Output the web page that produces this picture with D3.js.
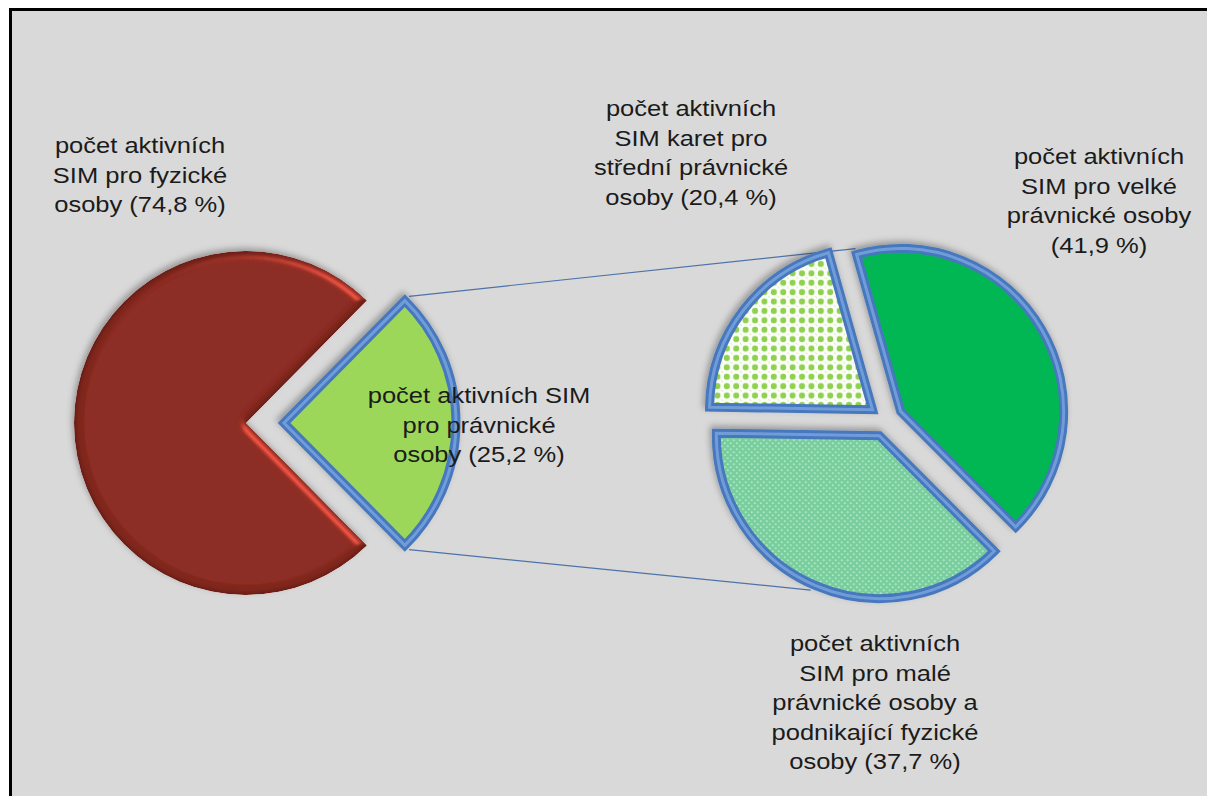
<!DOCTYPE html>
<meta charset="utf-8">
<style>
body { margin: 0; background: #fff; }
svg { display: block; }
.label {
  font-family: Arial, "Liberation Sans", sans-serif;
  font-size: 22px;
  fill: #1b1b1b;
}
.connector {
  fill: none;
  stroke: #4d73a8;
  stroke-width: 1.2px;
}
</style>
<svg width="1207" height="796"></svg>
<script src="https://cdnjs.cloudflare.com/ajax/libs/d3/7.8.5/d3.min.js"></script>
<script>
// data
var mainNames = ["počet aktivních SIM pro fyzické osoby", "počet aktivních SIM pro právnické osoby"];
var mainValues = [74.8, 25.2];
var subNames = ["počet aktivních SIM pro velké právnické osoby",
                "počet aktivních SIM pro malé právnické osoby a podnikající fyzické osoby",
                "počet aktivních SIM karet pro střední právnické osoby"];
var subValues = [41.9, 37.7, 20.4];

// label text, wrapped as in the original ({p} = percentage)
var mainLines = [
  ["počet aktivních", "SIM pro fyzické", "osoby ({p})"],
  ["počet aktivních SIM", "pro právnické", "osoby ({p})"]
];
var subLines = [
  ["počet aktivních", "SIM pro velké", "právnické osoby", "({p})"],
  ["počet aktivních", "SIM pro malé", "právnické osoby a", "podnikající fyzické", "osoby ({p})"],
  ["počet aktivních", "SIM karet pro", "střední právnické", "osoby ({p})"]
];

// layout
var width = 1207, height = 796;
var mainCenter = [246, 423], mainR = 172, mainExplode = 38;
var subCenter = [886, 420], subR = 163, subExplode = 17;
var subStart = -15.7 * Math.PI / 180;
var connectorAngles = [-15.5 * Math.PI / 180, 204 * Math.PI / 180];
var mainLabelPos = [[140, 153], [479, 403]];
var subLabelPos = [[1099, 164], [875, 651], [691, 116]];
var lineStep = 29.5, textStretch = 1.16;

var locale = d3.formatLocale({decimal: ",", thousands: " ", grouping: [3], currency: ["", ""]});
var fmt = function(v) { return locale.format(".1f")(v) + " %"; };

var svg = d3.select("svg");
var defs = svg.append("defs");

// frame
svg.append("rect")
    .attr("x", 10.5).attr("y", 9.5)
    .attr("width", width + 20).attr("height", height + 20)
    .attr("fill", "#d9d9d9")
    .attr("stroke", "#000").attr("stroke-width", 3);

// shadow filter (offset up-left as in the original)
var sh = defs.append("filter").attr("id", "shadow")
    .attr("x", "-20%").attr("y", "-20%").attr("width", "140%").attr("height", "140%");
sh.append("feDropShadow")
    .attr("dx", -2).attr("dy", -3).attr("stdDeviation", 3)
    .attr("flood-color", "#000").attr("flood-opacity", 0.3);

// soft bevel for the brown slice
var bv = defs.append("filter").attr("id", "bevel")
    .attr("x", "-15%").attr("y", "-15%").attr("width", "130%").attr("height", "130%");
bv.append("feGaussianBlur").attr("in", "SourceAlpha").attr("stdDeviation", 4).attr("result", "blur");
var spec = bv.append("feSpecularLighting")
    .attr("in", "blur").attr("surfaceScale", 5)
    .attr("specularConstant", 0.8).attr("specularExponent", 30)
    .attr("lighting-color", "#ff5a48").attr("result", "spec");
spec.append("feDistantLight").attr("azimuth", -45).attr("elevation", 40);
bv.append("feComposite").attr("in", "spec").attr("in2", "SourceAlpha")
    .attr("operator", "in").attr("result", "specIn");
bv.append("feComposite").attr("in", "SourceAlpha").attr("in2", "blur")
    .attr("operator", "arithmetic").attr("k2", 1).attr("k3", -1).attr("result", "edge");
bv.append("feFlood").attr("flood-color", "#3a0f0b").attr("flood-opacity", 0.9).attr("result", "dark");
bv.append("feComposite").attr("in", "dark").attr("in2", "edge").attr("operator", "in").attr("result", "darkEdge");
var mg = bv.append("feMerge").attr("result", "m1");
mg.append("feMergeNode").attr("in", "SourceGraphic");
mg.append("feMergeNode").attr("in", "darkEdge");
bv.append("feComposite").attr("in", "m1").attr("in2", "specIn")
    .attr("operator", "arithmetic").attr("k2", 1).attr("k3", 0.8).attr("result", "lit");
bv.append("feComposite").attr("in", "lit").attr("in2", "SourceAlpha").attr("operator", "in");

// patterns
var p1 = defs.append("pattern").attr("id", "bigDots")
    .attr("patternUnits", "userSpaceOnUse").attr("width", 9.4).attr("height", 9.4);
p1.append("rect").attr("width", 9.4).attr("height", 9.4).attr("fill", "#fbfdf8");
p1.append("circle").attr("cx", 4.7).attr("cy", 4.7).attr("r", 3).attr("fill", "#8fd14f");
p1.append("circle").attr("cx", 0).attr("cy", 0).attr("r", 1).attr("fill", "#c8e8a8");
p1.append("circle").attr("cx", 9.4).attr("cy", 9.4).attr("r", 1).attr("fill", "#c8e8a8");

var p2 = defs.append("pattern").attr("id", "smallDots")
    .attr("patternUnits", "userSpaceOnUse").attr("width", 6).attr("height", 6);
p2.append("rect").attr("width", 6).attr("height", 6).attr("fill", "#77cd9c");
p2.append("circle").attr("cx", 1.5).attr("cy", 1.5).attr("r", 0.8).attr("fill", "#e6fff2");
p2.append("circle").attr("cx", 4.5).attr("cy", 4.5).attr("r", 0.8).attr("fill", "#e6fff2");

var mainFills = ["#832b24", "#9cd75a"];
var subFills = ["#05b752", "url(#smallDots)", "url(#bigDots)"];

// main pie: split-off slice centred on the right
var mainShare = mainValues[1] / d3.sum(mainValues);
var mainStart = Math.PI / 2 + mainShare * Math.PI;
var mainArcs = d3.pie().sort(null).value(function(d) { return d; })
    .startAngle(mainStart).endAngle(mainStart + 2 * Math.PI)(mainValues);
var subArcs = d3.pie().sort(null).value(function(d) { return d; })
    .startAngle(subStart).endAngle(subStart + 2 * Math.PI)(subValues);

var mainArc = d3.arc().innerRadius(0).outerRadius(mainR);
var subArc = d3.arc().innerRadius(0).outerRadius(subR);

function dir(a) { return [Math.sin(a), -Math.cos(a)]; }
function mid(d) { return (d.startAngle + d.endAngle) / 2; }

// connector lines from split slice corners to second pie
var split = mainArcs[1];
var splitC = [mainCenter[0] + mainExplode * dir(mid(split))[0], mainCenter[1] + mainExplode * dir(mid(split))[1]];
var splitCorners = [split.startAngle, split.endAngle].map(function(a) {
  return [splitC[0] + (mainR + 6) * dir(a)[0], splitC[1] + (mainR + 6) * dir(a)[1]];
});
function norm(a) { var t = 2 * Math.PI; return ((a - subStart) % t + t) % t + subStart; }
var subEnds = connectorAngles.map(function(a) {
  var an = norm(a);
  var s = subArcs.find(function(d) { return an >= d.startAngle && an < d.endAngle; });
  var m = dir(mid(s));
  return [subCenter[0] + subExplode * m[0] + (subR + 6) * dir(a)[0],
          subCenter[1] + subExplode * m[1] + (subR + 6) * dir(a)[1]];
});
svg.append("g").selectAll("line")
  .data([0, 1])
  .join("line")
    .attr("class", "connector")
    .attr("x1", function(i) { return splitCorners[i][0]; })
    .attr("y1", function(i) { return splitCorners[i][1]; })
    .attr("x2", function(i) { return subEnds[i][0]; })
    .attr("y2", function(i) { return subEnds[i][1]; });

// brown slice
svg.append("g")
    .attr("transform", "translate(" + mainCenter + ")")
    .attr("filter", "url(#shadow)")
  .append("path")
    .attr("d", mainArc(mainArcs[0]))
    .attr("fill", mainFills[0])
    .attr("filter", "url(#bevel)");

// slices with blue bevelled border
function bordered(g, d, arc, fill) {
  var sg = g.append("g").attr("filter", "url(#shadow)");
  sg.append("path").attr("d", arc(d))
      .attr("fill", fill)
      .attr("stroke", "#4677bd").attr("stroke-width", 9)
      .attr("stroke-linejoin", "miter");
  sg.append("path").attr("d", arc(d))
      .attr("fill", "none")
      .attr("stroke", "#7fa9e3").attr("stroke-width", 3)
      .attr("stroke-opacity", 0.75);
}

var splitG = svg.append("g").attr("transform", "translate(" + splitC + ")");
bordered(splitG, split, mainArc, mainFills[1]);

subArcs.forEach(function(d, i) {
  var m = dir(mid(d));
  var g = svg.append("g")
      .attr("transform", "translate(" + (subCenter[0] + subExplode * m[0]) + "," + (subCenter[1] + subExplode * m[1]) + ")");
  bordered(g, d, subArc, subFills[i]);
});

// labels
function label(lines, pos, v) {
  var g = svg.append("g").attr("class", "label");
  lines.forEach(function(t, k) {
    g.append("text")
        .attr("text-anchor", "middle")
        .attr("transform", "translate(" + pos[0] + "," + (pos[1] + k * lineStep) + ") scale(" + textStretch + ",1)")
        .text(t.replace("{p}", fmt(v)));
  });
}
mainValues.forEach(function(v, i) { label(mainLines[i], mainLabelPos[i], v); });
subValues.forEach(function(v, i) { label(subLines[i], subLabelPos[i], v); });
</script>
